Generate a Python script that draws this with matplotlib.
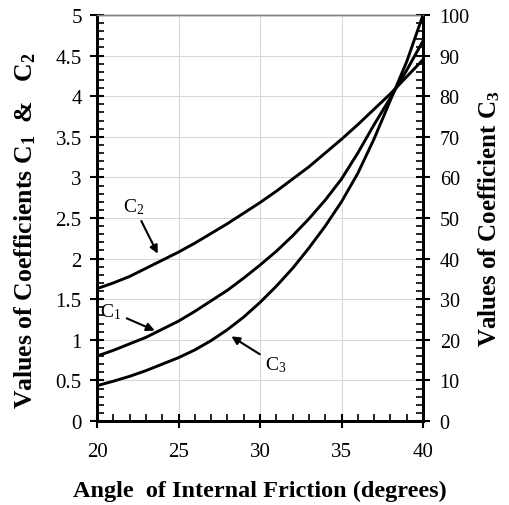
import matplotlib
matplotlib.use("Agg")
import matplotlib.pyplot as plt
from matplotlib.ticker import MultipleLocator, FuncFormatter

plt.rcParams['font.family'] = ['Liberation Serif', 'DejaVu Serif']
plt.rcParams['mathtext.default'] = 'regular'

angle = [20, 21, 22, 23, 24, 25, 26, 27, 28, 29, 30, 31, 32, 33, 34, 35, 36, 37, 38, 39, 40]
c1 = [0.80, 0.87, 0.95, 1.03, 1.13, 1.23, 1.35, 1.48, 1.61, 1.76, 1.92, 2.09, 2.28, 2.49, 2.72,
      2.98, 3.30, 3.65, 3.98, 4.32, 4.68]
c2 = [1.63, 1.70, 1.78, 1.88, 1.98, 2.08, 2.19, 2.31, 2.43, 2.56, 2.69, 2.83, 2.98, 3.13, 3.30,
      3.47, 3.65, 3.84, 4.03, 4.24, 4.45]
c3 = [8.7, 9.8, 11.0, 12.4, 14.0, 15.6, 17.5, 19.8, 22.5, 25.6, 29.2, 33.2, 37.6, 42.6, 48.0,
      54.0, 61.0, 69.5, 79.0, 88.5, 100.0]

fig = plt.figure(figsize=(5.09, 5.06), dpi=100)
ax = fig.add_axes([97/509, 1-422/506, (423-97)/509, (422-16)/506])
ax2 = ax.twinx()

lw = 2.1
ax.plot(angle, c1, color='black', lw=lw, zorder=3)
ax.plot(angle, c2, color='black', lw=lw, zorder=3)
ax2.plot(angle, c3, color='black', lw=lw, zorder=3)

ax.set_xlim(20, 40)
ax.set_ylim(0, 5)
ax2.set_ylim(0, 100)

ax.xaxis.set_major_locator(MultipleLocator(5))
ax.xaxis.set_minor_locator(MultipleLocator(1))
ax.yaxis.set_major_locator(MultipleLocator(0.5))
ax.yaxis.set_minor_locator(MultipleLocator(0.1))
ax2.yaxis.set_major_locator(MultipleLocator(10))
ax2.yaxis.set_minor_locator(MultipleLocator(2))

ax.grid(True, which='major', color='#d9d9d9', lw=0.8)

ax.yaxis.set_major_formatter(FuncFormatter(lambda v, p: f"{v:g}"))

ax.tick_params(axis='both', which='major', direction='inout', length=10, width=1.5,
               labelsize=15, colors='black')
ax.tick_params(axis='both', which='minor', direction='in', length=5, width=1.2)
ax.tick_params(axis='x', which='major', pad=10)
ax.tick_params(axis='y', which='major', pad=6)
ax2.tick_params(axis='y', which='major', direction='inout', length=10, width=1.5,
                labelsize=14.5, pad=7)
ax2.tick_params(axis='y', which='minor', direction='in', length=5, width=1.2)

for a in (ax, ax2):
    a.spines['left'].set_linewidth(2)
    a.spines['bottom'].set_linewidth(2)
    a.spines['right'].set_linewidth(2)
    a.spines['top'].set_linewidth(1)
    a.spines['top'].set_color('#808080')

ax.set_xlabel('Angle  of Internal Friction (degrees)', fontsize=17.5, fontweight='bold', labelpad=14)
ax.set_ylabel('Values of Coefficients C$_1$  &   C$_2$', fontsize=18.5, fontweight='bold')
ax2.set_ylabel('Values of Coefficient C$_3$', fontsize=18, fontweight='bold')
ax.yaxis.set_label_coords((38 - 97) / 326, 0.47)
ax2.yaxis.set_label_coords((476 - 97) / 326, 0.5)

arrow = dict(arrowstyle='-|>', color='black', lw=1.5, mutation_scale=12)
ax.annotate('C$_2$', xy=(23.8, 2.03), xytext=(21.6, 2.65), fontsize=14,
            arrowprops=arrow, ha='left', va='center')
ax.annotate('C$_1$', xy=(23.7, 1.10), xytext=(20.2, 1.35), fontsize=14,
            arrowprops=arrow, ha='left', va='center')
ax.annotate('C$_3$', xy=(28.1, 1.06), xytext=(30.3, 0.70), fontsize=14,
            arrowprops=arrow, ha='left', va='center')

fig.savefig('out.png', dpi=100)
